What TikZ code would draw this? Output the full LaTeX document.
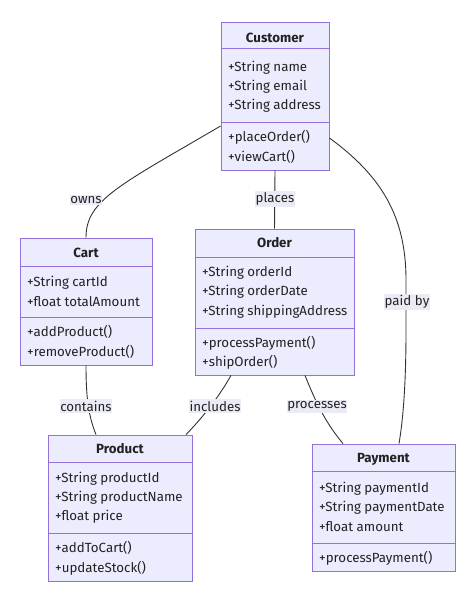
\documentclass[tikz,border=0pt]{standalone}
\usepackage{fontspec}
\setmainfont{Fira Sans}
\definecolor{umlfill}{HTML}{ECECFF}
\definecolor{umlstroke}{HTML}{9370DB}
\definecolor{txt}{HTML}{222222}
\definecolor{lblbg}{HTML}{EBEBF6}
\definecolor{edgec}{HTML}{333333}
\begin{document}
\begin{tikzpicture}[x=1pt,y=-1pt,
  font=\fontsize{13.3}{15}\selectfont,
  cls/.style={draw=umlstroke, fill=umlfill, line width=0.9pt, inner sep=0pt, rectangle},
  divider/.style={draw=umlstroke, line width=0.9pt},
  ttl/.style={font=\fontsize{13.3}{15}\selectfont\bfseries, text=txt, inner sep=0pt},
  mem/.style={anchor=west, text=txt, inner sep=0pt},
  lbl/.style={fill=lblbg, text=txt, inner xsep=0.5pt, inner ysep=1.5pt},
  edge/.style={draw=edgec, line width=0.9pt}]
\fill[white] (0,0) rectangle (474,601);
\useasboundingbox (0,0) rectangle (474,601);

% Customer
\node[cls, minimum width=108pt, minimum height=148pt] (cust) at (275,96) {};
\draw[divider] (cust.west |- 0,48) -- (cust.east |- 0,48);
\draw[divider] (cust.west |- 0,122) -- (cust.east |- 0,122);
\node[ttl] (custT) at (275,38) {Customer};
\node[mem] (cust1) at (228,68) {+String name};
\node[mem] (cust2) at (228,87) {+String email};
\node[mem] (cust3) at (228,106) {+String address};
\node[mem] (cust4) at (228,137) {+placeOrder()};
\node[mem] (cust5) at (228,157) {+viewCart()};

% Cart
\node[cls, minimum width=132pt, minimum height=127pt] (cart) at (86,301.5) {};
\draw[divider] (cart.west |- 0,266) -- (cart.east |- 0,266);
\draw[divider] (cart.west |- 0,317) -- (cart.east |- 0,317);
\node[ttl] (cartT) at (86,253) {Cart};
\node[mem] (cart1) at (27,283) {+String cartId};
\node[mem] (cart2) at (27,302) {+float totalAmount};
\node[mem] (cart3) at (27,332) {+addProduct()};
\node[mem] (cart4) at (27,352) {+removeProduct()};

% Order
\node[cls, minimum width=159pt, minimum height=146pt] (order) at (274.5,302) {};
\draw[divider] (order.west |- 0,257) -- (order.east |- 0,257);
\draw[divider] (order.west |- 0,328) -- (order.east |- 0,328);
\node[ttl] (orderT) at (274.5,243) {Order};
\node[mem] (order1) at (202,273) {+String orderId};
\node[mem] (order2) at (202,292) {+String orderDate};
\node[mem] (order3) at (202,312) {+String shippingAddress};
\node[mem] (order4) at (202,343) {+processPayment()};
\node[mem] (order5) at (202,362) {+shipOrder()};

% Product
\node[cls, minimum width=144pt, minimum height=146pt] (prod) at (120,508) {};
\draw[divider] (prod.west |- 0,462) -- (prod.east |- 0,462);
\draw[divider] (prod.west |- 0,533) -- (prod.east |- 0,533);
\node[ttl] (prodT) at (120,449) {Product};
\node[mem] (prod1) at (55,479) {+String productId};
\node[mem] (prod2) at (55,498) {+String productName};
\node[mem] (prod3) at (55,517) {+float price};
\node[mem] (prod4) at (55,548) {+addToCart()};
\node[mem] (prod5) at (55,568) {+updateStock()};

% Payment
\node[cls, minimum width=143pt, minimum height=127pt] (pay) at (383.5,507.5) {};
\draw[divider] (pay.west |- 0,471) -- (pay.east |- 0,471);
\draw[divider] (pay.west |- 0,543) -- (pay.east |- 0,543);
\node[ttl] (payT) at (383.5,459) {Payment};
\node[mem] (pay1) at (319,489) {+String paymentId};
\node[mem] (pay2) at (319,508) {+String paymentDate};
\node[mem] (pay3) at (319,527) {+float amount};
\node[mem] (pay4) at (319,558) {+processPayment()};

% connectors
\draw[edge] ([yshift=-30pt]cust.west) .. controls (120,185) and (86,200) .. (cart.north);
\draw[edge] (cust.south) -- (order.north);
\draw[edge] ([yshift=-42pt]cust.east) .. controls (380,175) and (406,215) .. (406,280) -- (406,330) .. controls (406,385) and (403,420) .. ([xshift=15.5pt]pay.north);
\draw[edge] (cart.south) .. controls (86,395) and (88,415) .. ([xshift=-24pt]prod.north);
\draw[edge] ([xshift=-43.5pt]order.south) .. controls (220,395) and (205,415) .. ([xshift=66pt]prod.north);
\draw[edge] ([xshift=30.5pt]order.south) .. controls (313,395) and (323,420) .. ([xshift=-40.5pt]pay.north);

% labels
\node[lbl] (lOwns) at (86,200) {owns};
\node[lbl] (lPlaces) at (275,199) {places};
\node[lbl] (lPaid) at (407,302) {paid by};
\node[lbl] (lContains) at (86,406) {contains};
\node[lbl] (lIncludes) at (215,406) {includes};
\node[lbl] (lProc) at (317,406) {processes};
\end{tikzpicture}
\end{document}
